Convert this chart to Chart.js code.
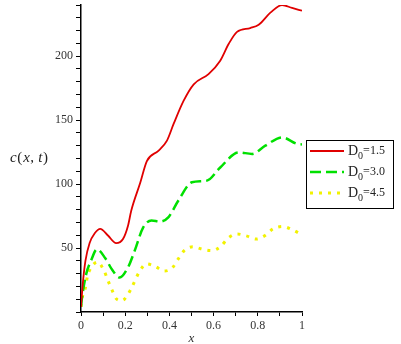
<!DOCTYPE html>
<html>
<head>
<meta charset="utf-8">
<script src="https://cdn.jsdelivr.net/npm/chart.js@4/dist/chart.umd.min.js"></script>
<style>
    html, body { margin: 0; padding: 0; background: #fff; }
    #wrap { position: relative; width: 401px; height: 344px; }
</style>
</head>
<body>
<div id="wrap"><canvas id="chart" width="401" height="344"></canvas></div>
<script>
// Values
const redX = [0, 0.008, 0.02, 0.039, 0.062, 0.087, 0.122, 0.159, 0.19, 0.213, 0.227, 0.268, 0.298, 0.35, 0.389, 0.419, 0.464, 0.51, 0.577, 0.63, 0.668, 0.706, 0.766, 0.804, 0.857, 0.91, 0.955, 1.0];
const redY = [4, 22, 40, 54, 61.5, 65, 59.8, 53.8, 57, 67.6, 79, 101, 118, 126, 134, 147, 165, 178, 186, 196.5, 209.5, 219, 222, 224.6, 234, 240, 237.7, 235.5];

const greenX = [0, 0.005, 0.024, 0.045, 0.072, 0.11, 0.141, 0.175, 0.213, 0.243, 0.281, 0.319, 0.357, 0.395, 0.44, 0.502, 0.57, 0.63, 0.713, 0.774, 0.834, 0.91, 0.978, 1.0];
const greenY = [4, 11.6, 30, 40, 49, 42, 33, 27, 35, 48, 66, 71.5, 70.7, 74, 87, 101.4, 102.7, 113, 124.8, 123.6, 130, 136.5, 131.4, 131];

const yellowX = [0, 0.006, 0.02, 0.029, 0.047, 0.074, 0.104, 0.122, 0.14, 0.16, 0.18, 0.198, 0.224, 0.266, 0.296, 0.337, 0.376, 0.413, 0.44, 0.467, 0.506, 0.55, 0.591, 0.633, 0.665, 0.706, 0.748, 0.792, 0.833, 0.869, 0.913, 0.954, 0.993];
const yellowY = [4, 11.6, 19, 27.7, 35, 39, 32.4, 24.6, 17.3, 10.3, 9, 10.3, 17.3, 32, 37.6, 35.5, 32, 34.5, 41.5, 48, 51, 49, 48, 51.4, 57.7, 61, 59.5, 57, 59.8, 65, 66.8, 64.5, 61];

const legendLabels = ["1.5", "3.0", "4.5"];
const xTickLabels = [0, 0.2, 0.4, 0.6, 0.8, 1];
const yTickLabels = [50, 100, 150, 200];

function pts(xs, ys) {
    return xs.map((x, i) => ({ x: x, y: ys[i] }));
}

const serif = "'Liberation Serif', 'Times New Roman', serif";

// horizontal y-axis label "c(x, t)"
const yLabelPlugin = {
    id: "yLabel",
    afterDraw(chart) {
        const ctx = chart.ctx;
        const parts = [
            ["c", "italic"], ["(", "normal"], ["x", "italic"], [", ", "normal"], ["t", "italic"], [")", "normal"]
        ];
        ctx.save();
        ctx.fillStyle = "#222";
        ctx.textBaseline = "middle";
        let x = 10;
        parts.forEach(([t, style]) => {
            ctx.font = style + " 15px " + serif;
            ctx.fillText(t, x, 158);
            x += ctx.measureText(t).width + (t === "(" || t === ")" ? 1 : 0.5);
        });
        ctx.restore();
    }
};

// boxed legend on the right
const boxLegendPlugin = {
    id: "boxLegend",
    afterDraw(chart) {
        const ctx = chart.ctx;
        const left = 306, top = 140, right = 393, bottom = 208;
        const rows = [151, 172, 193];
        ctx.save();
        ctx.strokeStyle = "#000";
        ctx.lineWidth = 1;
        ctx.strokeRect(left + 0.5, top + 0.5, right - left, bottom - top);
        chart.data.datasets.forEach((ds, i) => {
            const y = rows[i];
            ctx.beginPath();
            ctx.strokeStyle = ds.borderColor;
            ctx.lineWidth = ds.borderWidth;
            ctx.setLineDash(ds.borderDash || []);
            ctx.moveTo(310, y);
            ctx.lineTo(344, y);
            ctx.stroke();
            ctx.setLineDash([]);
            ctx.fillStyle = "#222";
            ctx.textBaseline = "middle";
            ctx.font = "14px " + serif;
            ctx.fillText("D", 348, y);
            const dw = ctx.measureText("D").width;
            ctx.font = "10px " + serif;
            ctx.fillText("0", 348 + dw, y + 5);
            const zw = ctx.measureText("0").width;
            ctx.font = "12px " + serif;
            ctx.fillText("=" + legendLabels[i], 348 + dw + zw, y);
        });
        ctx.restore();
    }
};

const ctx = document.getElementById("chart").getContext("2d");
new Chart(ctx, {
    type: "line",
    data: {
        datasets: [
            {
                data: pts(redX, redY),
                borderColor: "#e00000",
                borderWidth: 1.8,
                pointRadius: 0,
                cubicInterpolationMode: "monotone"
            },
            {
                data: pts(greenX, greenY),
                borderColor: "#00e000",
                borderWidth: 2.5,
                borderDash: [11, 5],
                pointRadius: 0,
                cubicInterpolationMode: "monotone"
            },
            {
                data: pts(yellowX, yellowY),
                borderColor: "#f2f200",
                borderWidth: 3,
                borderDash: [3, 6],
                pointRadius: 0,
                cubicInterpolationMode: "monotone"
            }
        ]
    },
    options: {
        responsive: false,
        animation: false,
        layout: { padding: { left: 0, top: 5, right: 99, bottom: 0 } },
        plugins: {
            legend: { display: false },
            tooltip: { enabled: false }
        },
        scales: {
            x: {
                type: "linear",
                min: 0,
                max: 1,
                afterFit: function (scale) { scale.height = 32; },
                border: { color: "#000", width: 1.5 },
                grid: { drawOnChartArea: false, tickLength: 4, color: "#000" },
                ticks: {
                    stepSize: 0.1,
                    padding: 3,
                    maxRotation: 0,
                    autoSkip: false,
                    color: "#333",
                    font: { family: serif, size: 12 },
                    callback: function (v) {
                        const r = Math.round(v * 10) / 10;
                        return xTickLabels.includes(r) ? String(r) : "";
                    }
                },
                title: {
                    display: true,
                    text: "x",
                    color: "#333",
                    padding: { top: 0, bottom: -2 },
                    font: { family: serif, size: 13, style: "italic" }
                }
            },
            y: {
                min: 0,
                max: 240,
                afterFit: function (scale) {
                    scale.width = 81;
                    scale.paddingTop = 0;
                    scale.paddingBottom = 0;
                },
                border: { color: "#000", width: 1.5 },
                grid: { drawOnChartArea: false, tickLength: 5, color: "#000" },
                ticks: {
                    stepSize: 10,
                    padding: 3,
                    autoSkip: false,
                    color: "#333",
                    font: { family: serif, size: 12 },
                    callback: function (v) {
                        return yTickLabels.includes(v) ? String(v) : "";
                    }
                }
            }
        }
    },
    plugins: [yLabelPlugin, boxLegendPlugin]
});
</script>
</body>
</html>
